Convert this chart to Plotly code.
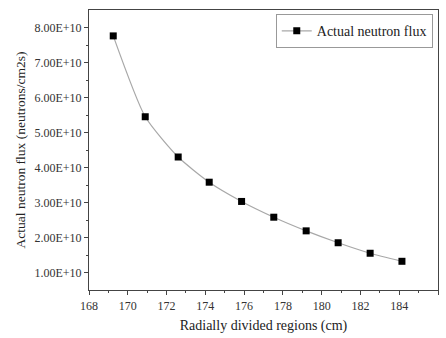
import plotly.graph_objects as go

radius = [169.25, 170.9, 172.6, 174.2, 175.87, 177.53, 179.2, 180.85, 182.5, 184.14]
flux = [7.76e10, 5.45e10, 4.30e10, 3.58e10, 3.03e10, 2.58e10, 2.19e10, 1.85e10, 1.55e10, 1.32e10]
x_ticks = [168, 170, 172, 174, 176, 178, 180, 182, 184, 186]
y_ticks = [1e10, 2e10, 3e10, 4e10, 5e10, 6e10, 7e10, 8e10]
y_labels = ["1.00E+10", "2.00E+10", "3.00E+10", "4.00E+10", "5.00E+10", "6.00E+10", "7.00E+10", "8.00E+10"]

font = "Liberation Serif, Times New Roman, serif"

fig = go.Figure()
fig.add_trace(go.Scatter(
    x=radius, y=flux, mode="lines+markers", name="Actual neutron flux",
    line=dict(color="#a8a8a8", width=1.2, shape="spline", smoothing=0.6),
    marker=dict(symbol="square", size=7, color="black"),
))

fig.update_layout(
    width=446, height=338,
    margin=dict(l=89, r=8, t=10, b=48),
    paper_bgcolor="white", plot_bgcolor="white",
    font=dict(family=font, color="#333333", size=12),
    showlegend=True,
    legend=dict(x=0.985, y=0.985, xanchor="right", yanchor="top",
                bordercolor="#999999", borderwidth=1, bgcolor="white",
                font=dict(size=14, family=font, color="#222222"),
                itemwidth=30, tracegroupgap=0),
)
fig.update_xaxes(
    range=[168, 186], tickvals=x_ticks, ticks="outside", ticklen=4,
    tickcolor="#444444", linecolor="#444444", linewidth=1.2, mirror=True,
    showgrid=False, zeroline=False,
    minor=dict(ticks="outside", ticklen=2, dtick=1, tickcolor="#444444"),
    title=dict(text="Radially divided regions (cm)", font=dict(size=14, family=font, color="#222222"), standoff=8),
    tickfont=dict(size=12, family=font, color="#333333"),
)
fig.update_yaxes(
    range=[0.5e10, 8.5e10], tickvals=y_ticks, ticktext=y_labels, ticks="outside", ticklen=4,
    tickcolor="#444444", linecolor="#444444", linewidth=1.2, mirror=True,
    showgrid=False, zeroline=False,
    minor=dict(ticks="outside", ticklen=2, tickvals=[1.5e10, 2.5e10, 3.5e10, 4.5e10, 5.5e10, 6.5e10, 7.5e10], tickcolor="#444444"),
    title=dict(text="Actual neutron flux (neutrons/cm2s)", font=dict(size=13.5, family=font, color="#222222"), standoff=5),
    tickfont=dict(size=12, family=font, color="#333333"),
)

fig.write_html("out.html")
